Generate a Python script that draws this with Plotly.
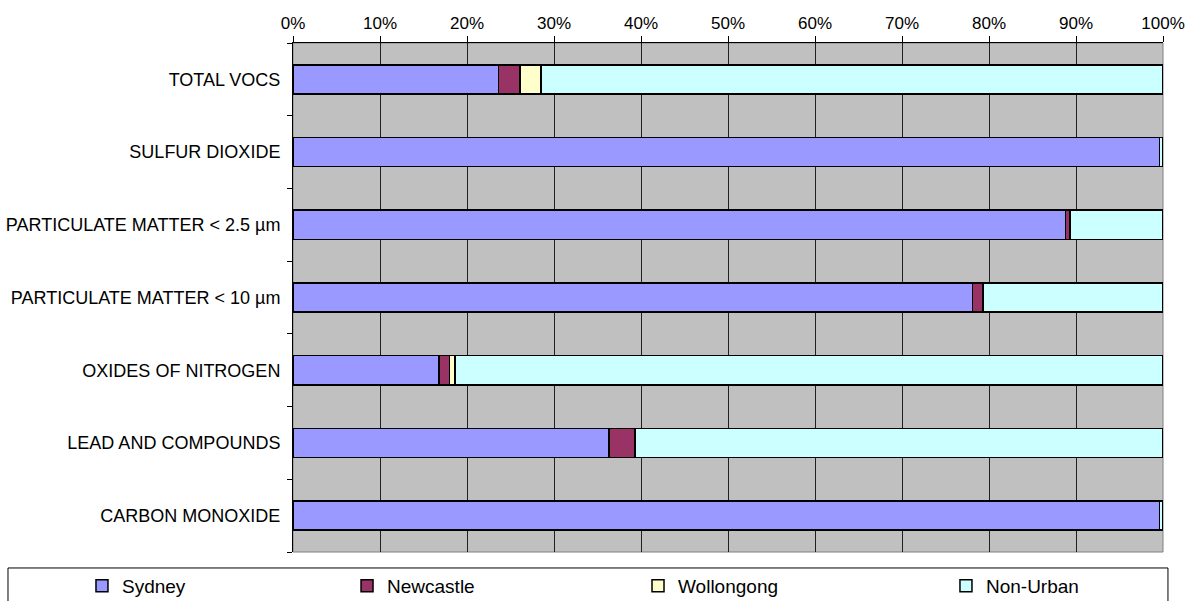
import plotly.graph_objects as go

# categories bottom -> top (plotly draws first category at bottom)
categorias = ["CARBON MONOXIDE", "LEAD AND COMPOUNDS", "OXIDES OF NITROGEN",
              "PARTICULATE MATTER < 10 µm", "PARTICULATE MATTER < 2.5 µm",
              "SULFUR DIOXIDE", "TOTAL VOCS"]

sydney = [0.996, 0.363, 0.168, 0.781, 0.888, 0.996, 0.236]
newcastle = [0.0, 0.030, 0.012, 0.012, 0.005, 0.0, 0.025]
wollongong = [0.0, 0.0, 0.006, 0.0, 0.0, 0.0, 0.024]
nao_urbano = [0.004, 0.607, 0.814, 0.207, 0.107, 0.004, 0.715]

series = [("Sydney", sydney, "#9999FF"),
          ("Newcastle", newcastle, "#993366"),
          ("Wollongong", wollongong, "#FFFFCC"),
          ("Non-Urban", nao_urbano, "#CCFFFF")]

FONTE = "Liberation Sans, Arial, sans-serif"

fig = go.Figure()
legendas = ["legend", "legend2", "legend3", "legend4"]
for (nome, vals, cor), lg in zip(series, legendas):
    fig.add_trace(go.Bar(y=categorias, x=vals, orientation="h", name=nome,
                         marker=dict(color=cor, line=dict(color="black", width=1.5)),
                         width=0.4, legend=lg, showlegend=True))

# cada item da legenda numa posição própria, como no Excel
pos_x = [0.0686, 0.2904, 0.5339, 0.7916]
leg_cfg = {}
for lg, px in zip(legendas, pos_x):
    leg_cfg[lg] = dict(x=px, y=0.025, xref="container", yref="container",
                       xanchor="left", yanchor="middle", orientation="h",
                       font=dict(size=19, family=FONTE, color="black"),
                       bgcolor="rgba(0,0,0,0)", itemwidth=30)

fig.update_layout(
    barmode="stack",
    width=1195, height=601,
    margin=dict(l=293, r=32, t=43, b=49, autoexpand=False),
    paper_bgcolor="white",
    plot_bgcolor="#C0C0C0",
    showlegend=True,
    **leg_cfg,
)

fig.update_xaxes(side="top", range=[0, 1], dtick=0.1, tickformat=".0%",
                 showgrid=True, gridcolor="#202020", gridwidth=1,
                 showline=True, linecolor="black", linewidth=1,
                 ticks="outside", ticklen=6, tickcolor="black",
                 tickfont=dict(size=17, family=FONTE, color="black"),
                 zeroline=False, fixedrange=True)
fig.update_yaxes(showgrid=False, showline=True, linecolor="black", linewidth=1,
                 ticks="outside", tickson="boundaries", ticklen=5, tickcolor="black",
                 ticklabelstandoff=8,
                 tickfont=dict(size=18, family=FONTE, color="black"),
                 fixedrange=True)

# borda cinza da área do gráfico e caixa da legenda
fig.add_shape(type="rect", xref="paper", yref="paper", x0=0, x1=1, y0=0, y1=1,
              line=dict(color="#808080", width=1), layer="below")
fig.add_shape(type="rect", xref="paper", yref="paper", x0=-0.3276, x1=1.0057,
              y0=-0.114, y1=-0.0314, line=dict(color="black", width=1))

# tira a margem padrão do body para a figura ficar no canto
fig.write_html("out.html", config={"displayModeBar": False},
               post_script="document.body.style.margin='0';")
